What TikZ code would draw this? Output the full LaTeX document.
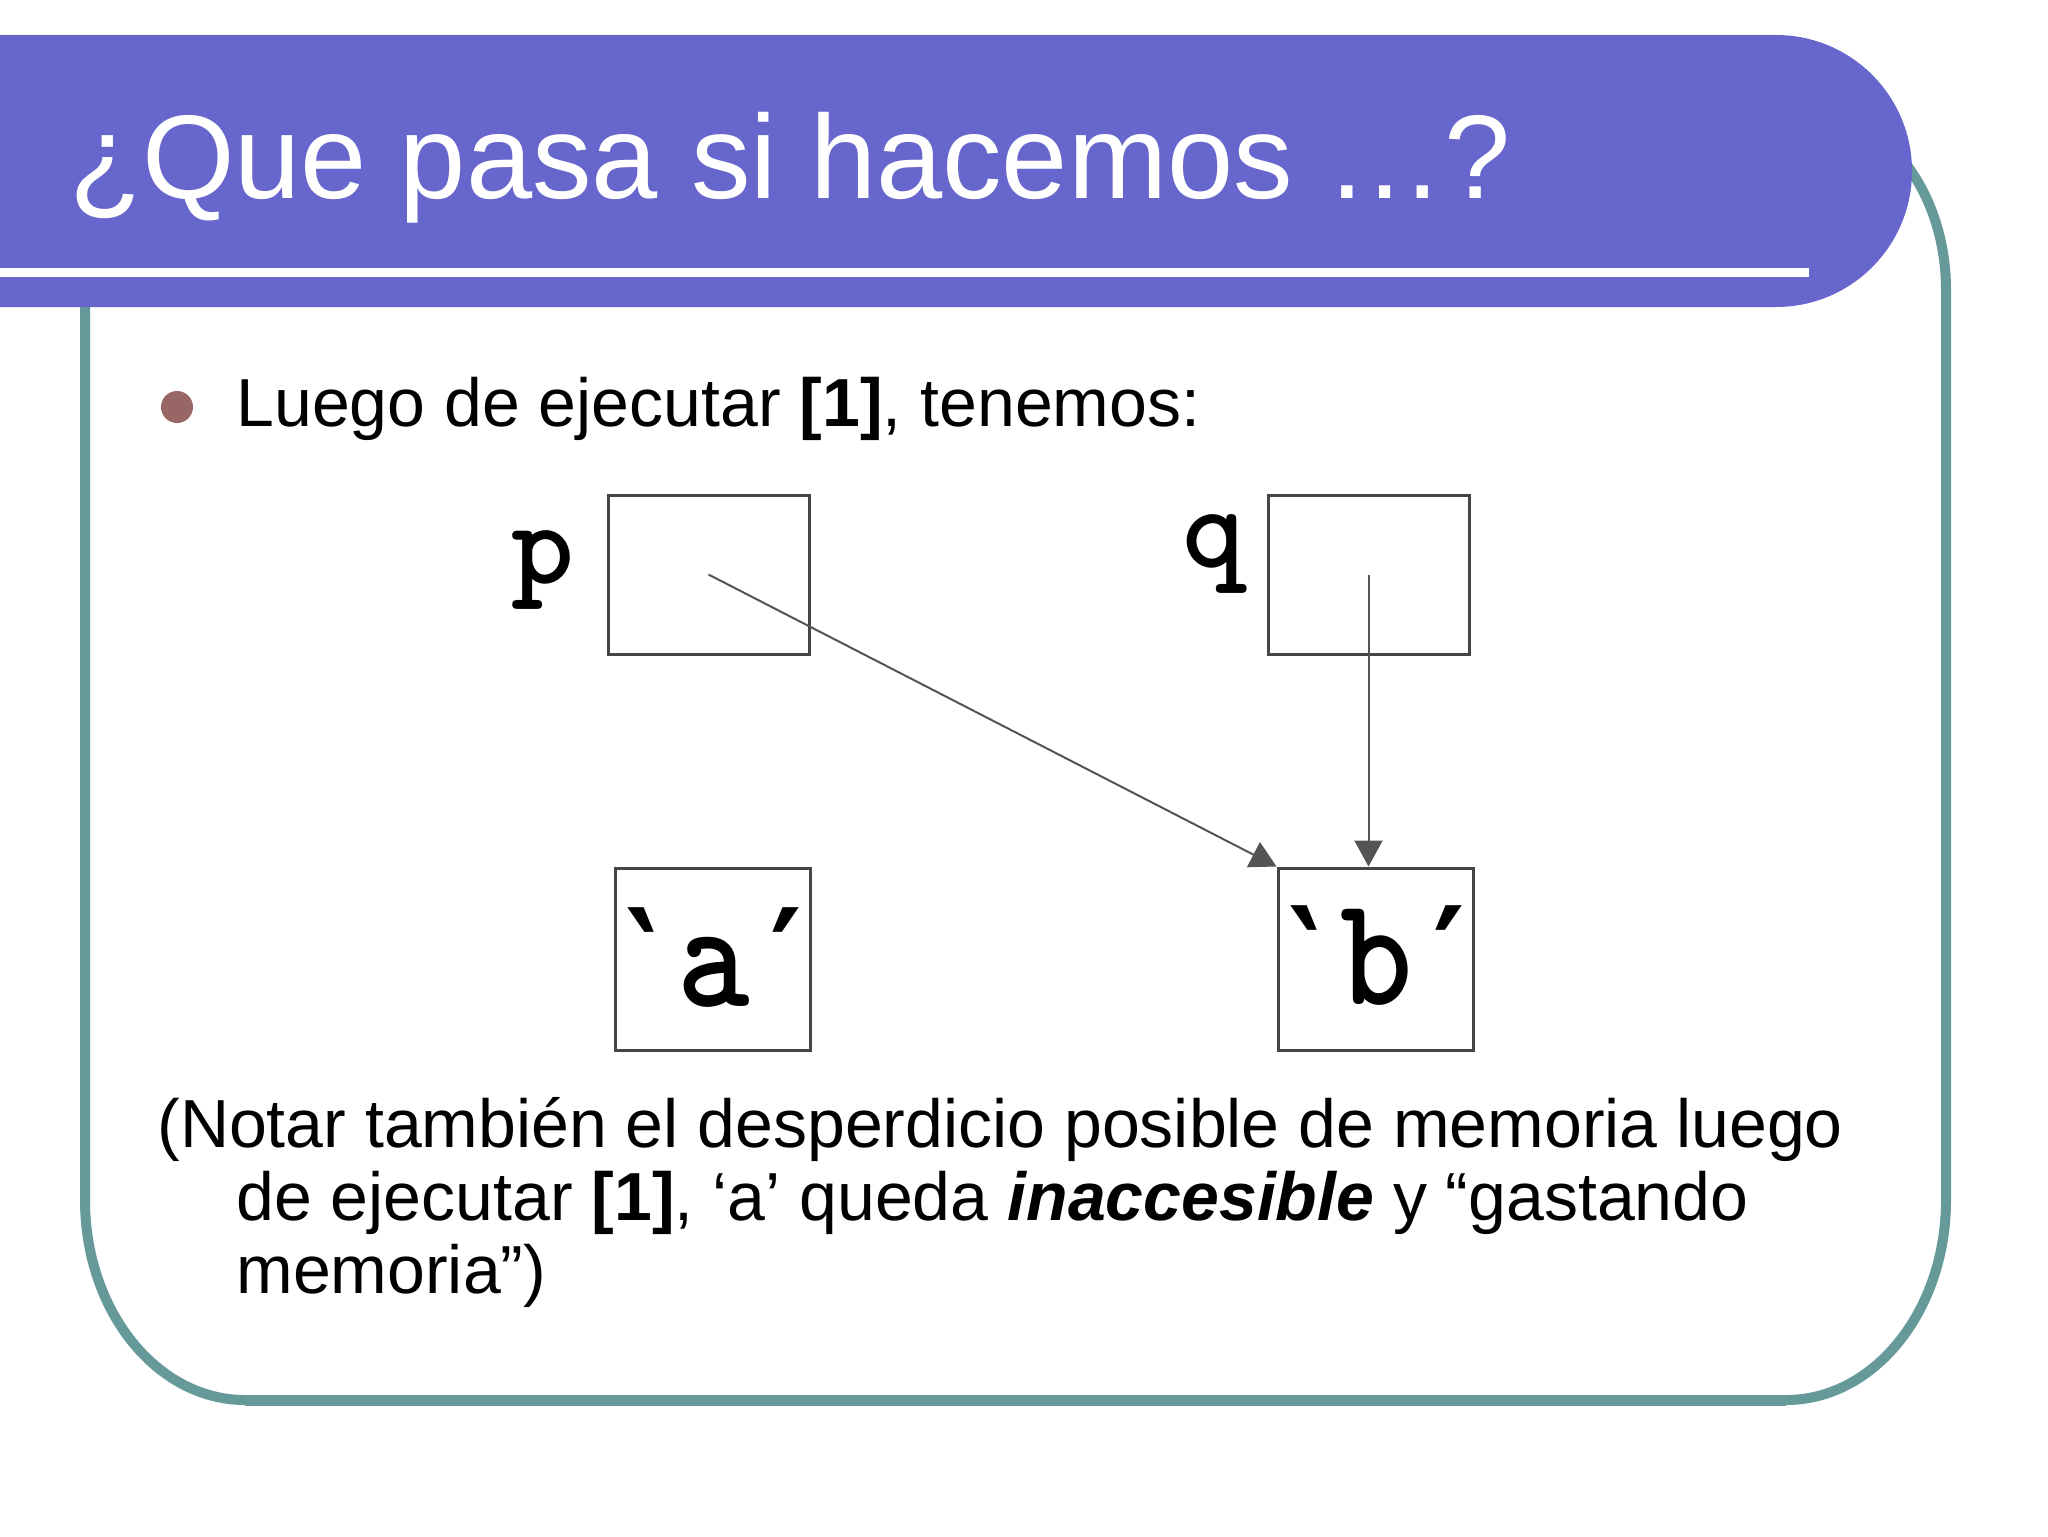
\documentclass[tikz,border=0pt]{standalone}
\usepackage{fontspec}
\usepackage{graphicx}
\setmainfont{Liberation Sans}
\newfontfamily\primefont{DejaVu Sans}
\usetikzlibrary{arrows.meta}
\definecolor{bandblue}{HTML}{6666CC}
\definecolor{frameteal}{HTML}{669999}
\definecolor{bulletbrown}{HTML}{996666}
\definecolor{boxgray}{gray}{0.27}
\definecolor{arrowgray}{gray}{0.33}
\newcommand{\cellfont}[1]{\ttfamily\bfseries\fontsize{#1}{#1}\selectfont}
\newcommand{\cellchar}[1]{\makebox[36.2pt][c]{#1}}
\newcommand{\cellopenq}{\cellchar{\primefont\bfseries\fontsize{60}{60}\selectfont ‵}}
\newcommand{\cellcloseq}{\cellchar{\primefont\bfseries\fontsize{60}{60}\selectfont ′}}
\tikzset{
  memcell/.style={draw=boxgray, line width=1.5pt, inner sep=0pt, minimum width=100.5pt, minimum height=79.5pt},
  valcell/.style={draw=boxgray, line width=1.5pt, inner sep=0pt, minimum width=97.5pt, minimum height=91pt},
  ptrarrow/.style={draw=arrowgray, line width=1pt, -{Triangle[length=13pt,width=14pt]}},
  bodytext/.style={anchor=base west, inner sep=0pt, font=\fontsize{34}{40}\selectfont},
  varlabel/.style={anchor=base, inner sep=0pt},
  valtext/.style={anchor=base, inner sep=0pt}
}
\begin{document}
\begin{tikzpicture}[x=0.5pt,y=-0.5pt]
\useasboundingbox (0,0) rectangle (2048,1536);
% frame
\draw[frameteal, line width=5pt]
  (85,290) -- (85,1200)
  .. controls (85,1310.5) and (156.6,1400) .. (245,1400)
  -- (1786,1400)
  .. controls (1874.4,1400) and (1946,1310.5) .. (1946,1200)
  -- (1946,290)
  .. controls (1946,190.6) and (1883.3,110) .. (1806,110)
  -- (225,110)
  .. controls (147.7,110) and (85,190.6) .. (85,290) -- cycle;
\draw[frameteal, line width=3pt] (245,1403) -- (1786,1403);
% title band
\fill[bandblue] (0,35) -- (1776,35)
  .. controls (1851.1,35) and (1912,95.9) .. (1912,171)
  .. controls (1912,246.1) and (1851.1,307) .. (1776,307)
  -- (0,307) -- cycle;
\fill[white] (0,268) rectangle (1809,277);
\node[anchor=base west, inner sep=0pt, text=white, font=\fontsize{59.5}{72}\selectfont] (title) at (69,198) {¿Que pasa si hacemos …?};
% bullet
\fill[bulletbrown] (177,407) circle[radius=8pt];
\node[bodytext] (bullet) at (236,426) {Luego de ejecutar \textbf{[1]}, tenemos:};
% diagram
\node[memcell] (pbox) at (708.5,574.5) {};
\node[memcell] (qbox) at (1368.5,575) {};
\node[valcell] (abox) at (712.5,959) {};
\node[valcell] (bbox) at (1375.5,959) {};
\node[varlabel] (plabel) at (543,583) {\cellfont{60}p};
\node[varlabel] (qlabel) at (1214,567) {\cellfont{60}q};
\node[valtext] (atext) at (714,1006) {\scalebox{1}[1.13]{\cellfont{69}\cellopenq\cellchar{a}\cellcloseq}};
\node[valtext] (btext) at (1377,1004) {\scalebox{1}[1.13]{\cellfont{69}\cellopenq\cellchar{b}\cellcloseq}};
\path[ptrarrow] (pbox.center) -- (bbox.north west);
\path[ptrarrow] (qbox.center) -- (qbox.center |- bbox.north);
% paragraph
\node[bodytext] (par1) at (157,1147) {(Notar también el desperdicio posible de memoria luego};
\node[bodytext] (par2) at (236,1220) {de ejecutar \textbf{[1]}, ‘a’ queda \textbf{\textit{inaccesible}} y “gastando};
\node[bodytext] (par3) at (236,1293) {memoria”)};
\end{tikzpicture}
\end{document}
